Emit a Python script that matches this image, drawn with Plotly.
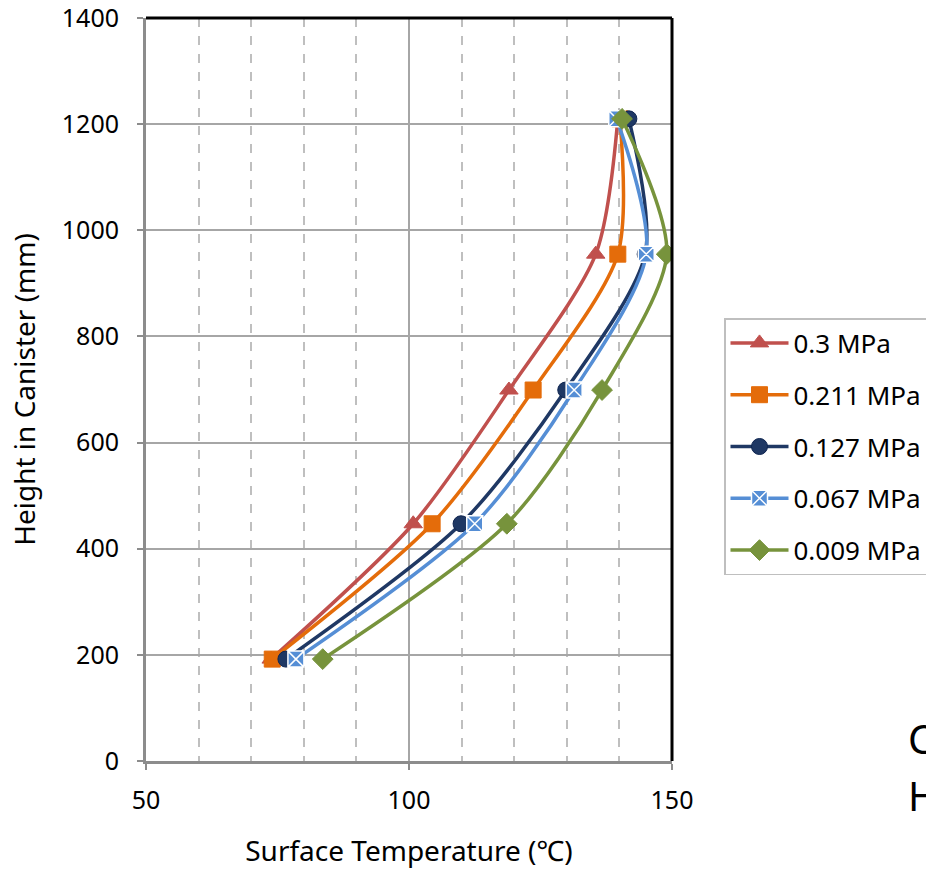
import plotly.graph_objects as go

heights = [192, 447, 699, 955, 1210]
series_names = ["0.3 MPa", "0.211 MPa", "0.127 MPa", "0.067 MPa", "0.009 MPa"]
temp_03 = [73.8, 100.8, 119.0, 135.5, 139.7]
temp_0211 = [74.0, 104.4, 123.6, 139.7, 140.1]
temp_0127 = [76.6, 109.9, 129.8, 144.9, 141.8]
temp_0067 = [78.5, 112.5, 131.4, 145.1, 139.5]
temp_0009 = [83.6, 118.6, 136.7, 149.0, 140.5]
y_ticks = [0, 200, 400, 600, 800, 1000, 1200, 1400]
x_ticks = [50, 100, 150]

colors = ["#C0504D", "#E46C0A", "#1F3864", "#558ED5", "#77933C"]
symbols = ["triangle-up", "square", "circle", "square-x", "diamond"]
line_cols = ["#C0504D", "#E46C0A", "#0F2550", "#FFFFFF", "#77933C"]
all_temps = [temp_03, temp_0211, temp_0127, temp_0067, temp_0009]

FONT = "Noto Sans"
FS = 25
TFS = 28

fig = go.Figure()
for i, (name, t, c, s, lc) in enumerate(zip(series_names, all_temps, colors, symbols, line_cols)):
    fig.add_trace(go.Scatter(
        x=t, y=heights, name=name, mode="lines+markers", legendgroup="g%d" % i,
        line=dict(color=c, width=3.5, shape="spline", smoothing=0.8),
        marker=dict(symbol=s, size=16, color=c, line=dict(color=lc, width=1.5 if s == "square-x" else 1)),
    ))

fig.update_layout(
    width=926, height=869,
    margin=dict(l=146, r=254, t=18, b=108),
    paper_bgcolor="white", plot_bgcolor="white",
    font=dict(family=FONT, size=FS, color="#000000"),
    showlegend=True,
    legend=dict(
        xref="container", yref="container",
        x=724 / 926, y=1 - 318 / 869, xanchor="left", yanchor="top",
        bordercolor="#BFBFBF", borderwidth=1.5, bgcolor="white",
        font=dict(family=FONT, size=26),
        tracegroupgap=15, itemwidth=58,
    ),
    xaxis=dict(
        range=[50, 150], tickvals=x_ticks, ticks="outside", ticklen=6,
        tickcolor="#8C8C8C", tickwidth=2, automargin=False, ticklabeloverflow="allow",
        ticklabelstandoff=9,
        showgrid=True, gridcolor="#A6A6A6", gridwidth=1.5,
        minor=dict(dtick=10, showgrid=True, gridcolor="#BFBFBF", griddash="dash", gridwidth=1.5, ticks=""),
        showline=True, linecolor="#8C8C8C", linewidth=3,
        zeroline=False,
        title=dict(text="Surface Temperature (℃)", font=dict(size=TFS), standoff=28),
        tickfont=dict(size=FS),
    ),
    yaxis=dict(
        range=[0, 1400.01], tickvals=y_ticks, ticks="outside", ticklen=6,
        tickcolor="#8C8C8C", tickwidth=2, automargin=False, ticklabeloverflow="allow",
        ticklabelstandoff=13,
        showgrid=True, gridcolor="#A6A6A6", gridwidth=1.5,
        showline=True, linecolor="#8C8C8C", linewidth=3,
        zeroline=False,
        title=dict(text="Height in Canister (mm)", font=dict(size=TFS), standoff=18),
        tickfont=dict(size=FS),
    ),
    shapes=[
        dict(type="line", xref="paper", yref="paper", x0=0, x1=1, y0=1, y1=1,
             line=dict(color="black", width=3)),
        dict(type="line", xref="paper", yref="paper", x0=1, x1=1, y0=0, y1=1,
             line=dict(color="black", width=3)),
    ],
    annotations=[
        dict(text="C", xref="paper", yref="paper", x=(906 - 146) / 526, y=(761 - 738) / 743,
             xanchor="left", yanchor="middle", showarrow=False, font=dict(size=40, family=FONT)),
        dict(text="H", xref="paper", yref="paper", x=(906 - 146) / 526, y=(761 - 795) / 743,
             xanchor="left", yanchor="middle", showarrow=False, font=dict(size=40, family=FONT)),
    ],
)

fig.write_html("out.html")
